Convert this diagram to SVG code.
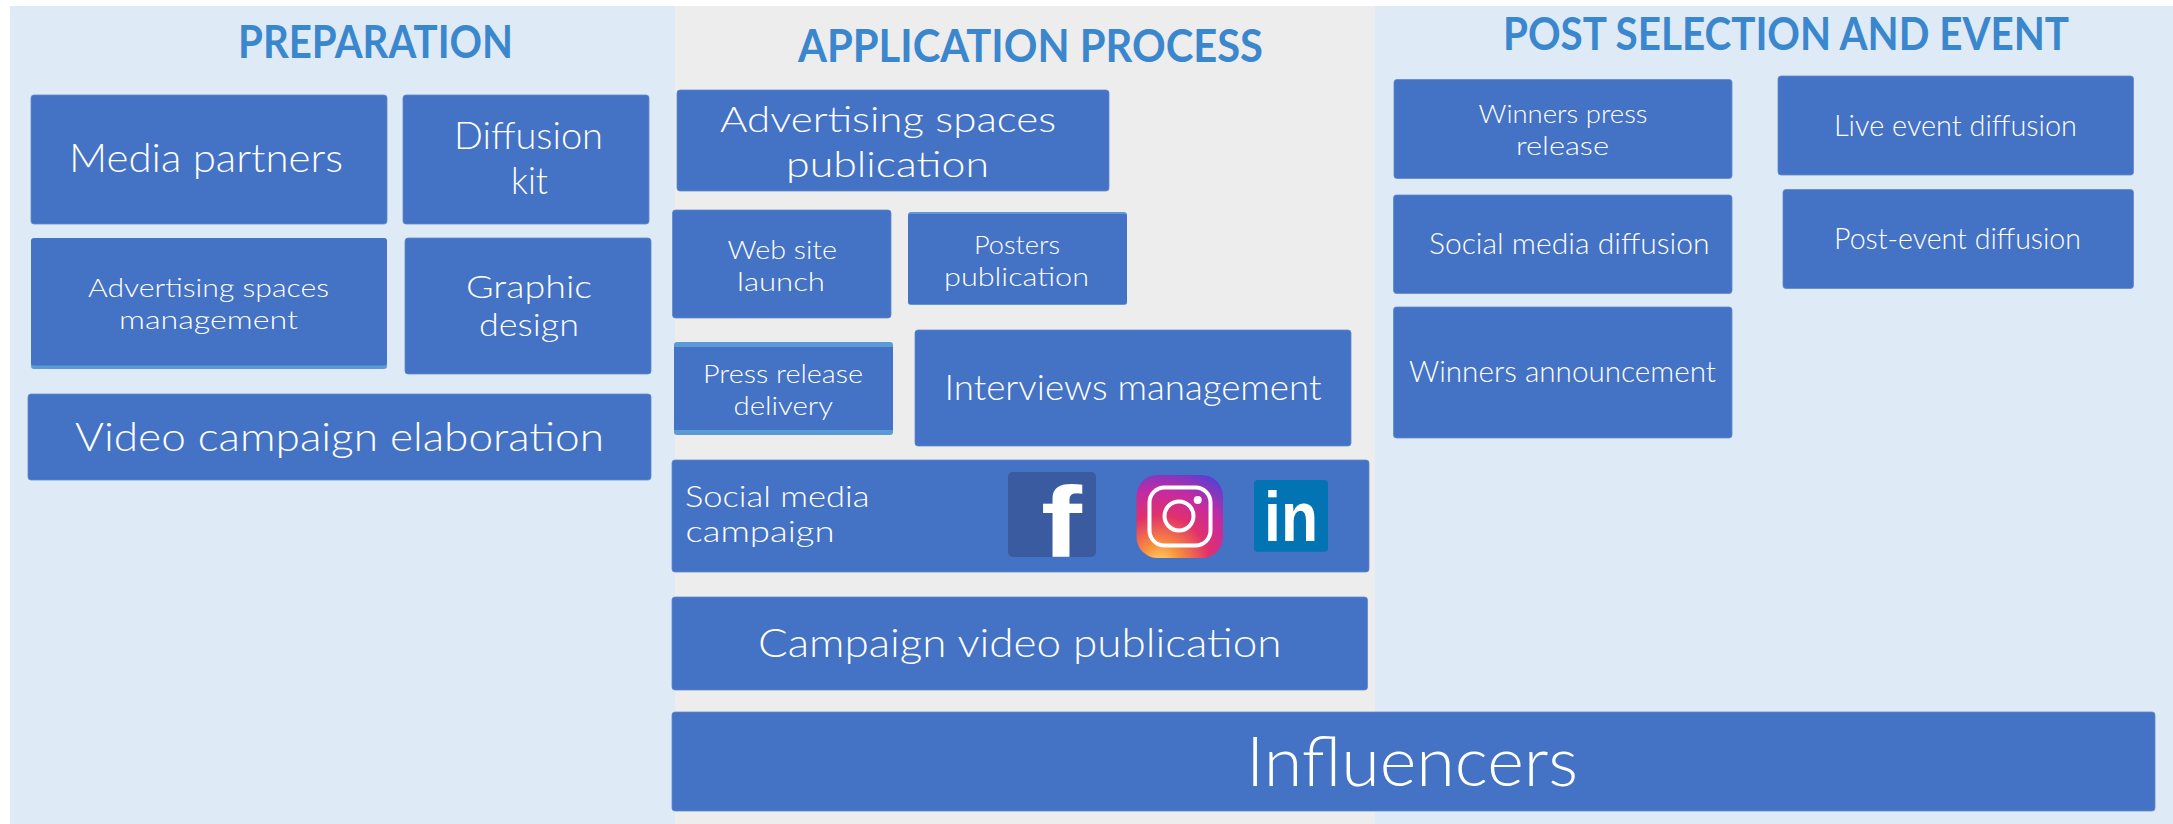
<svg xmlns="http://www.w3.org/2000/svg" width="2173" height="824" viewBox="0 0 2173 824">
<style>
.box{fill:#4472c4;stroke:#6288cc;stroke-width:0.8}
.band{fill:#5b9bd5}
text{font-family:"Lato","Open Sans","Liberation Sans",sans-serif}
.t{fill:#fff;font-weight:300}
.h{fill:#3a87cd;font-weight:700;font-size:45px}
</style>
<defs>
<radialGradient id="ig" gradientUnits="userSpaceOnUse" cx="1160" cy="565" r="100">
<stop offset="0" stop-color="#fedb78"/><stop offset="0.2" stop-color="#f9933a"/><stop offset="0.5" stop-color="#e1306c"/><stop offset="0.75" stop-color="#c32aa3"/><stop offset="1" stop-color="#5d3fd0"/>
</radialGradient>
</defs>
<g id="panels">
<rect x="10" y="6" width="665" height="818" fill="#deeaf6"/>
<rect x="675" y="6" width="700" height="818" fill="#ededed"/>
<rect x="1375" y="6" width="798" height="818" fill="#deeaf6"/>
</g>
<g id="headers">
<text class="h" x="238" y="58" textLength="275" lengthAdjust="spacingAndGlyphs">PREPARATION</text>
<text class="h" x="798" y="62" textLength="465" lengthAdjust="spacingAndGlyphs">APPLICATION PROCESS</text>
<text class="h" x="1503" y="50" textLength="566" lengthAdjust="spacingAndGlyphs">POST SELECTION AND EVENT</text>
</g>
<g id="media-partners"><rect class="box" x="31" y="95" width="356" height="129" rx="3"/>
<text class="t" font-size="40" x="69" y="172" textLength="274" lengthAdjust="spacingAndGlyphs">Media partners</text></g>
<g id="diffusion-kit"><rect class="box" x="403" y="95" width="246" height="129" rx="3"/>
<text class="t" font-size="37" x="454" y="149" textLength="149" lengthAdjust="spacingAndGlyphs">Diffusion</text>
<text class="t" font-size="37" x="511" y="194" textLength="37" lengthAdjust="spacingAndGlyphs">kit</text></g>
<g id="advertising-management"><rect class="band" x="31" y="358" width="356" height="11" rx="3"/><rect class="box" style="stroke:none" x="31" y="238" width="356" height="127.500" rx="3"/>
<text class="t" font-size="26" x="88" y="297" textLength="241" lengthAdjust="spacingAndGlyphs">Advertising spaces</text>
<text class="t" font-size="26" x="119" y="329" textLength="179" lengthAdjust="spacingAndGlyphs">management</text></g>
<g id="graphic-design"><rect class="box" x="405" y="238" width="246" height="136" rx="3"/>
<text class="t" font-size="31" x="466" y="298" textLength="126" lengthAdjust="spacingAndGlyphs">Graphic</text>
<text class="t" font-size="31" x="479" y="336" textLength="100" lengthAdjust="spacingAndGlyphs">design</text></g>
<g id="video-elaboration"><rect class="box" x="28" y="394" width="623" height="86" rx="3"/>
<text class="t" font-size="40" x="75" y="451" textLength="529" lengthAdjust="spacingAndGlyphs">Video campaign elaboration</text></g>

<g id="advertising-publication"><rect class="box" x="677" y="90" width="432" height="101" rx="3"/>
<text class="t" font-size="36" x="720" y="132" textLength="336" lengthAdjust="spacingAndGlyphs">Advertising spaces</text>
<text class="t" font-size="36" x="786" y="177" textLength="203" lengthAdjust="spacingAndGlyphs">publication</text></g>
<g id="web-site"><rect class="box" x="672.5" y="210" width="218.500" height="108" rx="3"/>
<text class="t" font-size="26" x="727.500" y="259" textLength="109.500" lengthAdjust="spacingAndGlyphs">Web site</text>
<text class="t" font-size="26" x="737" y="291" textLength="88" lengthAdjust="spacingAndGlyphs">launch</text></g>
<g id="posters"><rect class="band" x="908" y="212" width="219" height="93" rx="3"/><rect class="box" style="stroke:none" x="908" y="214" width="219" height="90" rx="2"/>
<text class="t" font-size="26" x="974" y="254" textLength="86" lengthAdjust="spacingAndGlyphs">Posters</text>
<text class="t" font-size="26" x="944" y="286" textLength="145" lengthAdjust="spacingAndGlyphs">publication</text></g>
<g id="press-release"><rect class="band" x="674" y="342" width="219" height="93" rx="3"/><rect class="box" style="stroke:none" x="674" y="347" width="219" height="83"/>
<text class="t" font-size="26" x="703" y="383" textLength="160" lengthAdjust="spacingAndGlyphs">Press release</text>
<text class="t" font-size="26" x="733.500" y="415" textLength="99.500" lengthAdjust="spacingAndGlyphs">delivery</text></g>
<g id="interviews"><rect class="box" x="915" y="330" width="436" height="116" rx="3"/>
<text class="t" font-size="36" x="944.500" y="400" textLength="377" lengthAdjust="spacingAndGlyphs">Interviews management</text></g>
<g id="social-campaign"><rect class="box" x="672" y="460" width="697" height="112" rx="3"/>
<text class="t" font-size="29" x="685" y="507" textLength="184.500" lengthAdjust="spacingAndGlyphs">Social media</text>
<text class="t" font-size="29" x="685.500" y="542" textLength="149" lengthAdjust="spacingAndGlyphs">campaign</text>
<g id="facebook-logo"><rect x="1008" y="472" width="88" height="85" rx="5" fill="#3b5ba0"/>
<text x="1041" y="557" font-size="100" font-weight="700" fill="#fff" style="font-family:'Liberation Sans',sans-serif" textLength="41" lengthAdjust="spacingAndGlyphs">f</text></g>
<g id="instagram-logo"><rect x="1136.500" y="475" width="86.500" height="83" rx="21" fill="url(#ig)"/>
<rect x="1149.500" y="487.500" width="61" height="58" rx="15" fill="none" stroke="#fff" stroke-width="4"/>
<circle cx="1179" cy="516" r="14.500" fill="none" stroke="#fff" stroke-width="4"/>
<circle cx="1197.700" cy="500" r="4" fill="#fff"/></g>
<g id="linkedin-logo"><rect x="1254" y="480" width="74" height="71.700" rx="4" fill="#0274b3"/>
<text x="1264" y="541" font-size="71" font-weight="700" fill="#fff" style="font-family:'Liberation Sans',sans-serif" textLength="54" lengthAdjust="spacingAndGlyphs">in</text></g></g>
<g id="campaign-video"><rect class="box" x="672" y="597" width="695.500" height="93" rx="3"/>
<text class="t" font-size="40" x="758" y="657" textLength="523.500" lengthAdjust="spacingAndGlyphs">Campaign video publication</text></g>

<g id="winners-press"><rect class="box" x="1394" y="79.500" width="338" height="99" rx="3"/>
<text class="t" font-size="26" x="1478.500" y="123" textLength="169" lengthAdjust="spacingAndGlyphs">Winners press</text>
<text class="t" font-size="26" x="1516" y="155" textLength="93" lengthAdjust="spacingAndGlyphs">release</text></g>
<g id="live-event"><rect class="box" x="1778" y="76" width="355.500" height="99" rx="3"/>
<text class="t" font-size="30" x="1834" y="136" textLength="243" lengthAdjust="spacingAndGlyphs">Live event diffusion</text></g>
<g id="social-diffusion"><rect class="box" x="1393.500" y="195" width="338.500" height="98.500" rx="3"/>
<text class="t" font-size="30" x="1429" y="254" textLength="280.500" lengthAdjust="spacingAndGlyphs">Social media diffusion</text></g>
<g id="post-event"><rect class="box" x="1783" y="189.500" width="350.500" height="99" rx="3"/>
<text class="t" font-size="30" x="1834" y="249" textLength="247" lengthAdjust="spacingAndGlyphs">Post-event diffusion</text></g>
<g id="winners-announcement"><rect class="box" x="1393.500" y="307" width="338.500" height="131" rx="3"/>
<text class="t" font-size="30" x="1409" y="382" textLength="307" lengthAdjust="spacingAndGlyphs">Winners announcement</text></g>
<g id="influencers"><rect class="box" x="672" y="712" width="1483" height="99" rx="3"/>
<text class="t" font-size="68" x="1246" y="786" textLength="332" lengthAdjust="spacingAndGlyphs">Influencers</text></g>
</svg>
